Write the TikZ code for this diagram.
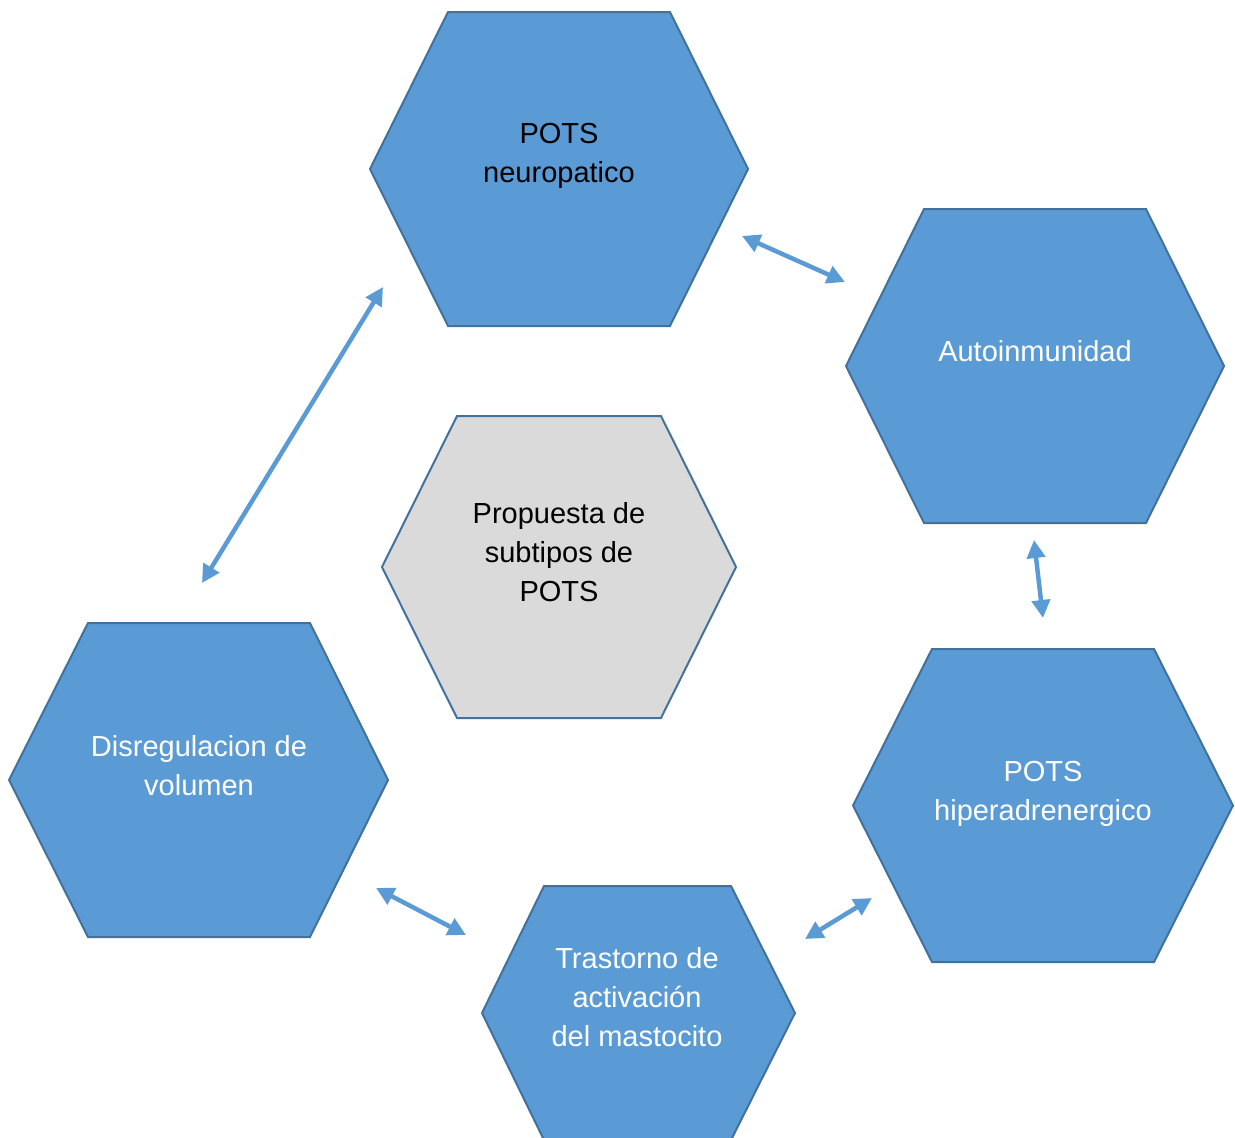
\documentclass[tikz,border=0pt]{standalone}
\usepackage{fontspec}
\setmainfont{Liberation Sans}
\usetikzlibrary{arrows.meta}
\definecolor{hexfill}{HTML}{5B9BD5}
\definecolor{hexline}{HTML}{41719C}
\definecolor{hexgray}{HTML}{DADADA}
\definecolor{link}{HTML}{5B9BD5}
\tikzset{
  bluehex/.style={fill=hexfill, draw=hexline, line width=2pt, line join=miter},
  grayhex/.style={fill=hexgray, draw=hexline, line width=2pt, line join=miter},
  % multi-line labels are anchored at the baseline of their last line
  lbl/.style={font=\fontsize{29}{39}\selectfont, align=center, inner sep=0pt, anchor=base},
  link/.style={draw=link, line width=4.5pt,
    {Triangle[length=18pt,width=18pt]}-{Triangle[length=18pt,width=18pt]}}
}
% hexagon: style, left x, top-left x, top-right x, right x, top y, bottom y
\newcommand{\hexshape}[7]{%
  \path[#1] (#2,{(#6+#7)/2}) -- (#3,#6) -- (#4,#6) -- (#5,{(#6+#7)/2})
    -- (#4,#7) -- (#3,#7) -- cycle;}
\begin{document}
\begin{tikzpicture}[x=1pt,y=-1pt]
  \useasboundingbox (0,0) rectangle (1235,1138);
  \clip (0,0) rectangle (1235,1138);

  % hexagons
  \hexshape{bluehex}{370}{448}{670}{748}{12}{326}
  \hexshape{bluehex}{846}{924}{1146}{1224}{209}{523}
  \hexshape{grayhex}{382}{457}{661}{736}{416}{718}
  \hexshape{bluehex}{9}{88}{310}{388}{623}{937}
  \hexshape{bluehex}{853}{932}{1154}{1233}{649}{962}
  \hexshape{bluehex}{482}{544}{731}{795}{886}{1140}

  % labels
  \node[lbl, black] (neuro) at (559,182) {POTS\\neuropatico};
  \node[lbl, white] (auto) at (1035,361) {Autoinmunidad};
  \node[lbl, black] (prop) at (559,601) {Propuesta de\\subtipos de\\POTS};
  \node[lbl, white] (volu) at (199,795) {Disregulacion de\\volumen};
  \node[lbl, white] (hiper) at (1043,820) {POTS\\hiperadrenergico};
  \node[lbl, white] (masto) at (637,1046) {Trastorno de\\activación\\del mastocito};

  % connector ends
  \coordinate (a1) at (742,236);  \coordinate (b1) at (845,282);
  \coordinate (a2) at (1034,540); \coordinate (b2) at (1043,618);
  \coordinate (a3) at (872,898);  \coordinate (b3) at (805,939);
  \coordinate (a4) at (376,888);  \coordinate (b4) at (466,935);
  \coordinate (a5) at (383,287);  \coordinate (b5) at (202,583);

  % double-headed links
  \draw[link] (a1) -- (b1);
  \draw[link] (a2) -- (b2);
  \draw[link] (a3) -- (b3);
  \draw[link] (a4) -- (b4);
  \draw[link] (a5) -- (b5);
\end{tikzpicture}
\end{document}
